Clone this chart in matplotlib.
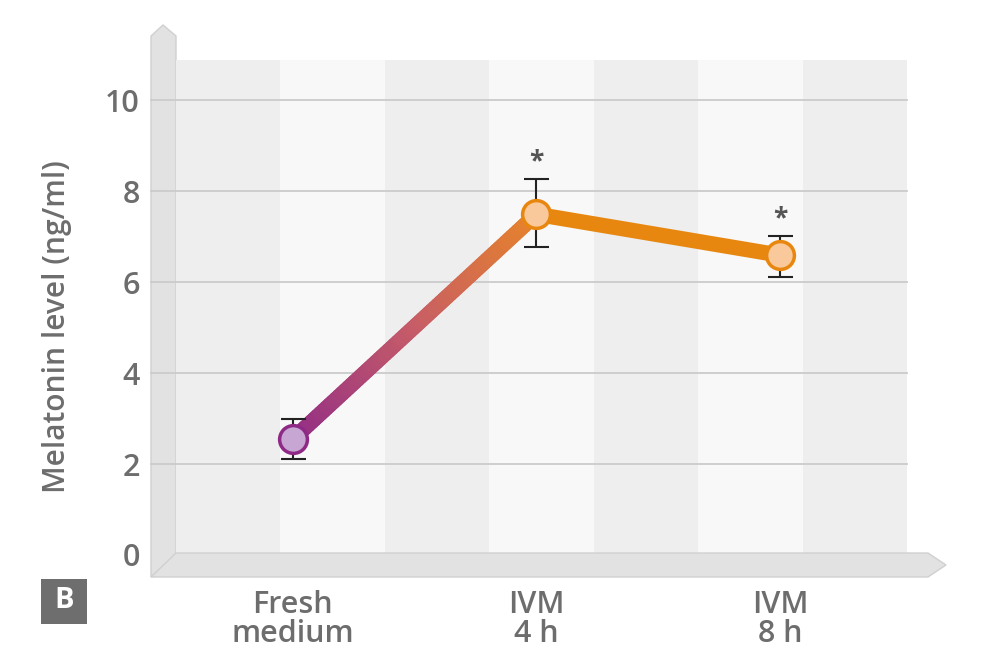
import numpy as np
import matplotlib
matplotlib.use('Agg')
import matplotlib.pyplot as plt
from matplotlib.patches import Polygon, Rectangle
from matplotlib.collections import LineCollection
from matplotlib.colors import LinearSegmentedColormap

plt.rcParams['font.family'] = ['Open Sans', 'DejaVu Sans']
plt.rcParams['font.weight'] = 'semibold'

# data
groups = ['Fresh\nmedium', 'IVM\n4 h', 'IVM\n8 h']
melatonin = [2.55, 7.49, 6.59]
err_low = [0.45, 0.73, 0.47]
err_high = [0.43, 0.77, 0.43]
signif = ['', '*', '*']
yticks = [0, 2, 4, 6, 8, 10]

W, H = 1000, 669
grey_txt = '#6d6d6d'
purple = '#8e2a86'
orange = '#e8870f'

def fx(px):
    return px / W

def fy(py):
    return 1 - py / H

fig = plt.figure(figsize=(10, 6.69), dpi=100)
ax = fig.add_axes([fx(176), fy(555), (907 - 176) / W, (555 - 60) / H])
ax.set_xlim(-0.48, 2.522)
ax.set_ylim(0, 10.88)
ax.patch.set_visible(False)
for s in ax.spines.values():
    s.set_visible(False)

# back wall stripes
stripe_cols = ['#eeeeee', '#f8f8f8']
edges = np.linspace(0, 1, 8)
for i in range(7):
    ax.add_patch(Rectangle((edges[i], 0), edges[i + 1] - edges[i], 1,
                           transform=ax.transAxes, color=stripe_cols[i % 2],
                           lw=0, zorder=0))

# left wall and floor
wall = [(151, 577), (151, 36), (163, 25), (176, 36), (176, 555)]
fig.patches.append(Polygon([(fx(a), fy(b)) for a, b in wall], closed=True,
                           transform=fig.transFigure, facecolor='#e2e2e2',
                           edgecolor='#d0d0d0', lw=1, zorder=-1))
floor = [(151, 577), (176, 553), (928, 553), (946, 565), (928, 577)]
fig.patches.append(Polygon([(fx(a), fy(b)) for a, b in floor], closed=True,
                           transform=fig.transFigure, facecolor='#e2e2e2',
                           edgecolor='#d0d0d0', lw=1, zorder=5))

# gridlines across wall
for t in yticks[1:]:
    ax.axhline(t, xmin=-25 / 731, xmax=1, color='#cbcbcb', lw=1.3,
               clip_on=False, zorder=1)

# gradient first segment
x = np.arange(len(groups))
t = np.linspace(0, 1, 80)
px = x[0] + (x[1] - x[0]) * t
py = melatonin[0] + (melatonin[1] - melatonin[0]) * t
segs = np.stack([np.column_stack([px[:-1], py[:-1]]),
                 np.column_stack([px[1:], py[1:]])], axis=1)
cmap = LinearSegmentedColormap.from_list('pg', ['#912c86', '#c65c68', '#e6832b'])
lc = LineCollection(segs, colors=cmap(t[:-1]), linewidths=11,
                    capstyle='round', zorder=3)
ax.add_collection(lc)
ax.plot(x[1:], melatonin[1:], color=orange, lw=11, solid_capstyle='round',
        zorder=3)

# error bars
ax.errorbar(x, melatonin, yerr=[err_low, err_high], fmt='none',
            ecolor='#222222', elinewidth=1.5, capsize=9, capthick=1.5, zorder=4)

# markers
face = ['#c8a6d4', '#f9c99b', '#f9c99b']
edge = [purple, orange, orange]
for i in range(len(x)):
    ax.plot(x[i], melatonin[i], 'o', ms=20, mfc=face[i], mec=edge[i], mew=2.5,
            zorder=6)

# significance
for i in range(len(x)):
    if signif[i]:
        ax.text(x[i], melatonin[i] + err_high[i] + 0.08, signif[i], ha='center',
                va='bottom', fontsize=19, fontweight='bold', color='#555555',
                zorder=6)

ax.set_yticks(yticks)
ax.set_yticklabels([str(v) for v in yticks])
ax.set_xticks(x)
ax.set_xticklabels(groups, linespacing=0.97)
ax.tick_params(axis='y', length=0, pad=26, labelsize=22, labelcolor=grey_txt)
ax.tick_params(axis='x', length=0, pad=25, labelsize=22, labelcolor=grey_txt)

fig.text(fx(57), fy(327), 'Melatonin level (ng/ml)', rotation=90,
         ha='center', va='center', fontsize=21.5, color=grey_txt)

# panel letter
fig.patches.append(Rectangle((fx(41), fy(624)), 46 / W, 45 / H,
                             transform=fig.transFigure, color='#6e6e6e', lw=0))
fig.text(fx(64), fy(601), 'B', ha='center', va='center', fontsize=21,
         fontweight='bold', color='white')

fig.savefig('out.png', dpi=100)
